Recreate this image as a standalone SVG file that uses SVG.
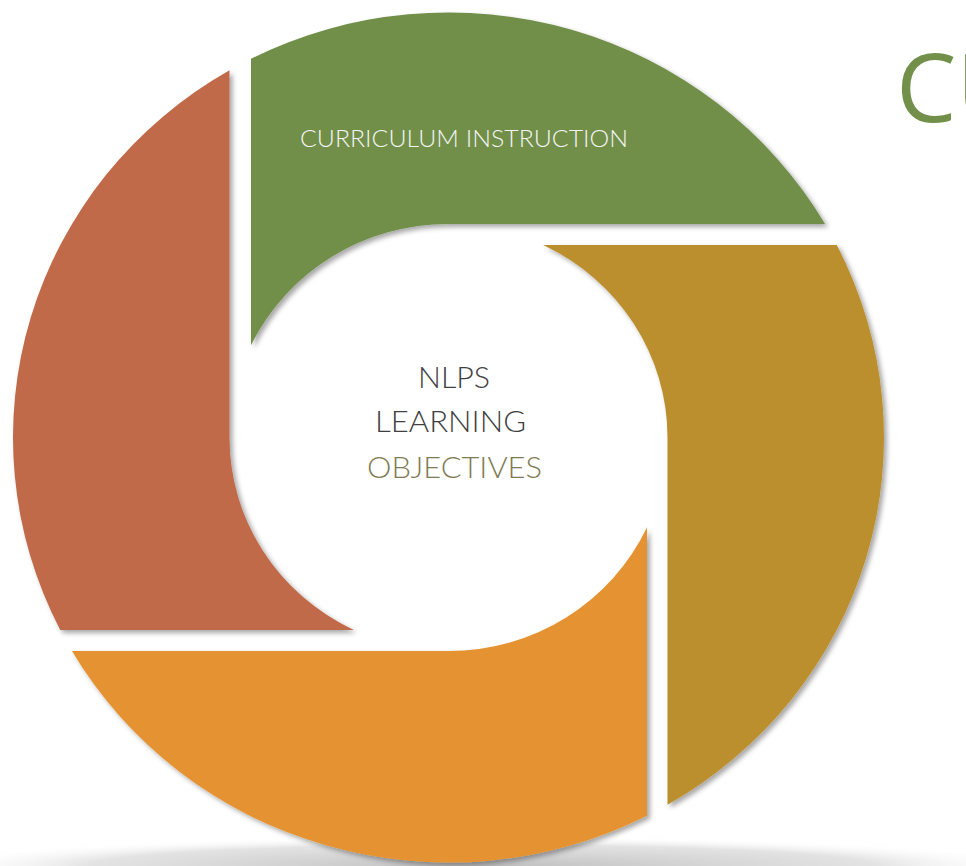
<svg xmlns="http://www.w3.org/2000/svg" width="966" height="866" viewBox="0 0 966 866">
  <defs>
    <filter id="shadow" x="-10%" y="-10%" width="130%" height="130%">
      <feDropShadow dx="3" dy="3" stdDeviation="2.5" flood-color="#000" flood-opacity="0.35"/>
    </filter>
    <radialGradient id="floor" cx="50%" cy="50%" r="50%">
      <stop offset="0" stop-color="#b8b8b8" stop-opacity="0.9"/>
      <stop offset="0.7" stop-color="#d0d0d0" stop-opacity="0.6"/>
      <stop offset="1" stop-color="#ffffff" stop-opacity="0"/>
    </radialGradient>
    <style>
      .blade { filter: url(#shadow); }
      .lbl { font-family: "Lato", "Open Sans", "Noto Sans", "Liberation Sans", sans-serif; font-weight: 300; }
      .big { font-family: "Open Sans", "Noto Sans", "Liberation Sans", sans-serif; }
    </style>
  </defs>
  <rect width="966" height="866" fill="#ffffff"/>
  <ellipse id="floor-shadow" cx="483" cy="866" rx="560" ry="30" fill="url(#floor)"/>

  <g id="blade-curriculum">
    <path class="blade" fill="#728F4A" d="M251,58.7 A435.5,425 0 0,1 825.06,224 L448.5,224 A219,213.5 0 0,0 251,345.25 Z"/>
    <text class="lbl" x="464" y="147" font-size="24" fill="#F4F4F4" text-anchor="middle" textLength="328" lengthAdjust="spacingAndGlyphs">CURRICULUM INSTRUCTION</text>
  </g>
  <g id="blade-gold">
    <path class="blade" fill="#BC8F2E" d="M836.77,245 A435.5,425 0 0,1 667.5,804.85 L667.5,437.5 A219,213.5 0 0,0 543.21,245 Z"/>
  </g>
  <g id="blade-orange">
    <path class="blade" fill="#E59330" d="M647,815.78 A435.5,425 0 0,1 71.94,651 L448.5,651 A219,213.5 0 0,0 647,527.31 Z"/>
  </g>
  <g id="blade-red">
    <path class="blade" fill="#C16A4A" d="M60.23,630 A435.5,425 0 0,1 229.5,70.15 L229.5,437.5 A219,213.5 0 0,0 353.79,630 Z"/>
  </g>

  <g id="center-label" class="lbl" font-size="29" text-anchor="middle">
    <text x="454" y="388" fill="#404040" textLength="72" lengthAdjust="spacingAndGlyphs">NLPS</text>
    <text x="450.5" y="432" fill="#404040" textLength="151" lengthAdjust="spacingAndGlyphs">LEARNING</text>
    <text x="454.5" y="478" fill="#7F7B54" textLength="175" lengthAdjust="spacingAndGlyphs">OBJECTIVES</text>
  </g>

  <g id="title">
    <text class="big" x="896" y="122" font-size="96" fill="#72904A">CU</text>
  </g>
</svg>
